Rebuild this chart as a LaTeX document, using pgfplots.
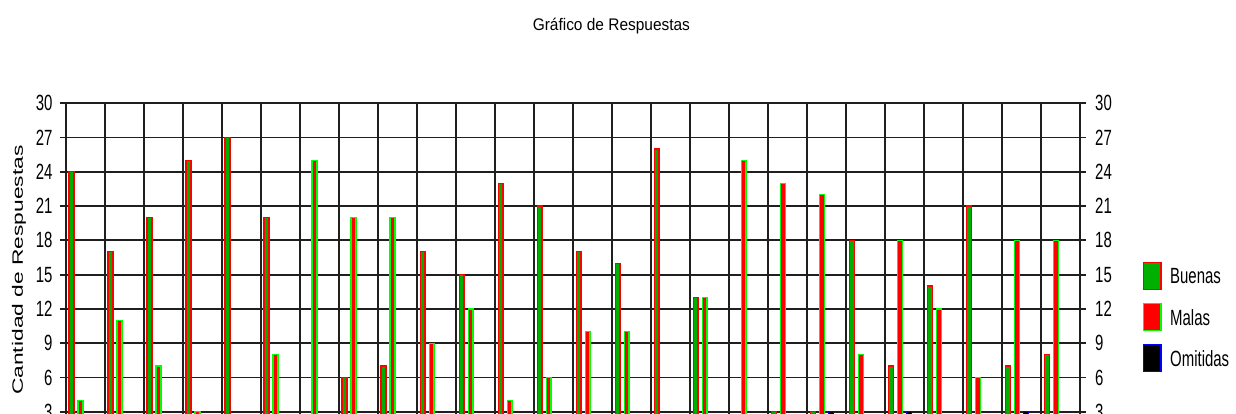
\documentclass[border=0pt]{standalone}
\usepackage{pgfplots}
\usepackage{pgfplotstable}
\pgfplotsset{compat=1.18}
\usepackage{fontspec}
\setmainfont{Liberation Sans}
\newfontfamily\narrowfont[FakeStretch=0.68]{Liberation Sans}
\newfontfamily\titlefont[FakeStretch=0.92]{Liberation Sans}
\newfontfamily\widefont[FakeStretch=1.52]{Liberation Sans}
\definecolor{bgreen}{RGB}{0,175,0}
\definecolor{lgreen}{RGB}{0,255,0}
\definecolor{bred}{RGB}{255,0,0}
\definecolor{bblue}{RGB}{0,0,255}

\pgfplotstableread{
g B M O
0 24 4 0
1 17 11 0
2 20 7 1
3 25 3 0
4 27 1 0
5 20 8 0
6 2 25 1
7 6 20 2
8 7 20 1
9 17 9 2
10 15 12 1
11 23 4 1
12 21 6 1
13 17 10 1
14 16 10 2
15 26 2 0
16 13 13 2
17 2 25 1
18 3 23 2
19 3 22 3
20 18 8 2
21 7 18 3
22 14 12 2
23 21 6 1
24 7 18 3
25 8 18 2
}\datatable

\pgfplotsset{
  mylegend/.style={legend image code/.code={\draw[##1, line width=1.6pt] (0pt,-13.45pt) rectangle (17.4pt,13.45pt);}},
  common/.style={
    at={(65.7pt,-103.3pt)}, anchor=north west,
    width=1014.3pt, height=342.7pt, scale only axis,
    xmin=0, xmax=26, ymin=0, ymax=30,
    ytick={0,3,...,30},
    /pgf/number format/assume math mode=true,
    yticklabel style={font=\narrowfont\fontsize{22}{22}\selectfont, inner sep=0pt},
  }
}

\begin{document}
\begin{tikzpicture}
\begin{axis}[
  common,
  xtick={0,...,26}, xticklabels={},
  xmajorgrids, ymajorgrids,
  major grid style={black!88, line width=1.8pt},
  axis line style={black!88, line width=1.8pt},
  x tick style={draw=none},
  y tick style={black!88, line width=1.8pt},
  tick align=outside, ytick pos=both, yticklabel pos=left,
  major tick length=6pt,
  yticklabel style={xshift=-7pt},
  title={Gráfico de Respuestas},
  title style={at={(rel axis cs:0.538,1.194)}, anchor=base, yshift=0pt, font=\titlefont\fontsize{16.8}{17}\selectfont},
  ylabel={Cantidad de Respuestas},
  ylabel style={at={(rel axis cs:-0.046,0.5136)}, anchor=center, font=\widefont\fontsize{15}{15}\selectfont},
  legend style={at={(1.0616,0.5384)}, anchor=north west, draw=none, fill=none,
    inner sep=0pt, row sep=12.6pt, column sep=8.5pt,
    cells={anchor=west}, nodes={inner sep=0pt, text depth=0pt},
    font=\narrowfont\fontsize{22}{22}\selectfont},
]
\addplot[ybar, bar width=4.9pt, bar shift=5.8pt, fill=bgreen, draw=bred, line width=1.3pt, mylegend] table[x=g,y=B]{\datatable};
\addlegendentry{Buenas}
\addplot[ybar, bar width=4.9pt, bar shift=14.8pt, fill=bred, draw=lgreen, line width=1.3pt, mylegend] table[x=g,y=M]{\datatable};
\addlegendentry{Malas}
\addplot[ybar, bar width=4.9pt, bar shift=23.8pt, fill=black, draw=bblue, line width=1.3pt, mylegend] table[x=g,y=O]{\datatable};
\addlegendentry{Omitidas}
\end{axis}
\begin{axis}[
  common,
  axis x line=none, axis y line*=right,
  axis line style={draw=none},
  y tick style={draw=none},
  yticklabel style={xshift=15pt},
]
\end{axis}
\pgfresetboundingbox
\path[use as bounding box] (0pt,0pt) rectangle (1236pt,-413pt);
\end{tikzpicture}
\end{document}
